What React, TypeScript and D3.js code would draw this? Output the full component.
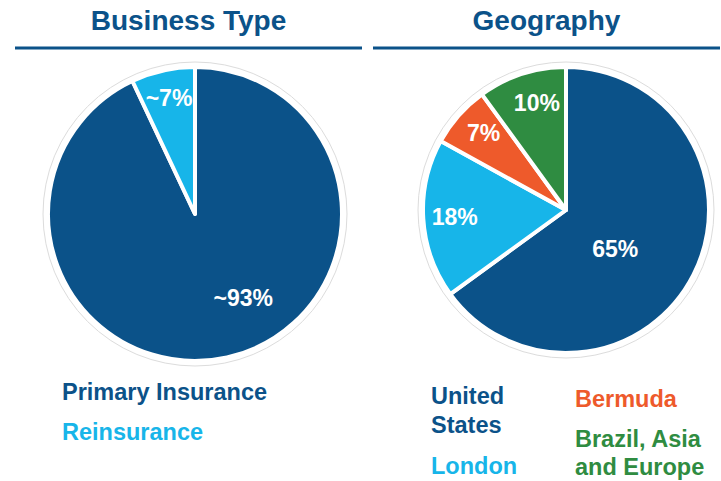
import React from "react";
import * as d3 from "d3";

const W = 721;
const H = 481;

const businessCategories = ["Primary Insurance", "Reinsurance"];
const businessValues = [93, 7];
const businessLabels = ["~93%", "~7%"];

const geoCategories = ["United States", "London", "Bermuda", "Brazil, Asia and Europe"];
const geoValues = [65, 18, 7, 10];
const geoLabels = ["65%", "18%", "7%", "10%"];

const titles = ["Business Type", "Geography"];

const DARK = "#0b5289";
const LIGHT = "#17b5e9";
const ORANGE = "#ee5a2b";
const GREEN = "#2f8c41";

const FONT = "'Liberation Sans', Arial, Helvetica, sans-serif";

type PieSpec = {
  cx: number;
  cy: number;
  r: number;
  values: number[];
  labels: string[];
  colors: string[];
  labelR: number[];
  labelShift: number[]; // angle shift in radians
};

function Pie({ spec }: { spec: PieSpec }) {
  const pie = d3.pie<number>().sort(null).value((d) => d);
  const arcs = pie(spec.values);
  const arc = d3.arc<d3.PieArcDatum<number>>().innerRadius(0).outerRadius(spec.r);
  return (
    <g transform={`translate(${spec.cx},${spec.cy})`}>
      <circle r={spec.r + 5} fill="#fff" stroke="#dcdcdc" strokeWidth={1} />
      {arcs.map((a, i) => (
        <path
          key={i}
          d={arc(a) || ""}
          fill={spec.colors[i]}
          stroke="#fff"
          strokeWidth={4}
          strokeLinejoin="round"
        />
      ))}
      {arcs.map((a, i) => {
        const mid = (a.startAngle + a.endAngle) / 2 + spec.labelShift[i];
        const rr = spec.r * spec.labelR[i];
        const x = Math.sin(mid) * rr;
        const y = -Math.cos(mid) * rr;
        return (
          <text
            key={"l" + i}
            x={x}
            y={y}
            dy="0.36em"
            textAnchor="middle"
            fill="#fff"
            fontFamily={FONT}
            fontWeight="bold"
            fontSize={23}
          >
            {spec.labels[i]}
          </text>
        );
      })}
    </g>
  );
}

export default function App() {
  const left: PieSpec = {
    cx: 195,
    cy: 214,
    r: 147,
    values: businessValues,
    labels: businessLabels,
    colors: [DARK, LIGHT],
    labelR: [0.66, 0.81],
    labelShift: [-0.3, 0],
  };
  const right: PieSpec = {
    cx: 566,
    cy: 210,
    r: 143,
    values: geoValues,
    labels: geoLabels,
    colors: [DARK, LIGHT, ORANGE, GREEN],
    labelR: [0.44, 0.78, 0.79, 0.78],
    labelShift: [0.2, 0, 0.03, 0.05],
  };

  const lines = [
    { x1: 15, x2: 362 },
    { x1: 373, x2: 720 },
  ];

  return (
    <svg
      width={W}
      height={H}
      style={{ position: "absolute", left: 0, top: 0, background: "#fff" }}
    >
      {titles.map((t, i) => (
        <g key={t}>
          <text
            x={(lines[i].x1 + lines[i].x2) / 2}
            y={30}
            textAnchor="middle"
            fill={DARK}
            fontFamily={FONT}
            fontWeight="bold"
            fontSize={28}
          >
            {t}
          </text>
          <line
            x1={lines[i].x1}
            x2={lines[i].x2}
            y1={48}
            y2={48}
            stroke={DARK}
            strokeWidth={3}
          />
        </g>
      ))}

      <Pie spec={left} />
      <Pie spec={right} />

      <g fontFamily={FONT} fontWeight="bold" fontSize={23.5}>
        <text x={62} y={400} fill={DARK}>{businessCategories[0]}</text>
        <text x={62} y={440} fill={LIGHT}>{businessCategories[1]}</text>

        <text x={431} y={404} fill={DARK}>United</text>
        <text x={431} y={433} fill={DARK}>States</text>
        <text x={431} y={474} fill={LIGHT}>{geoCategories[1]}</text>

        <text x={575} y={407} fill={ORANGE}>{geoCategories[2]}</text>
        <text x={575} y={447} fill={GREEN}>Brazil, Asia</text>
        <text x={575} y={475} fill={GREEN}>and Europe</text>
      </g>
    </svg>
  );
}
